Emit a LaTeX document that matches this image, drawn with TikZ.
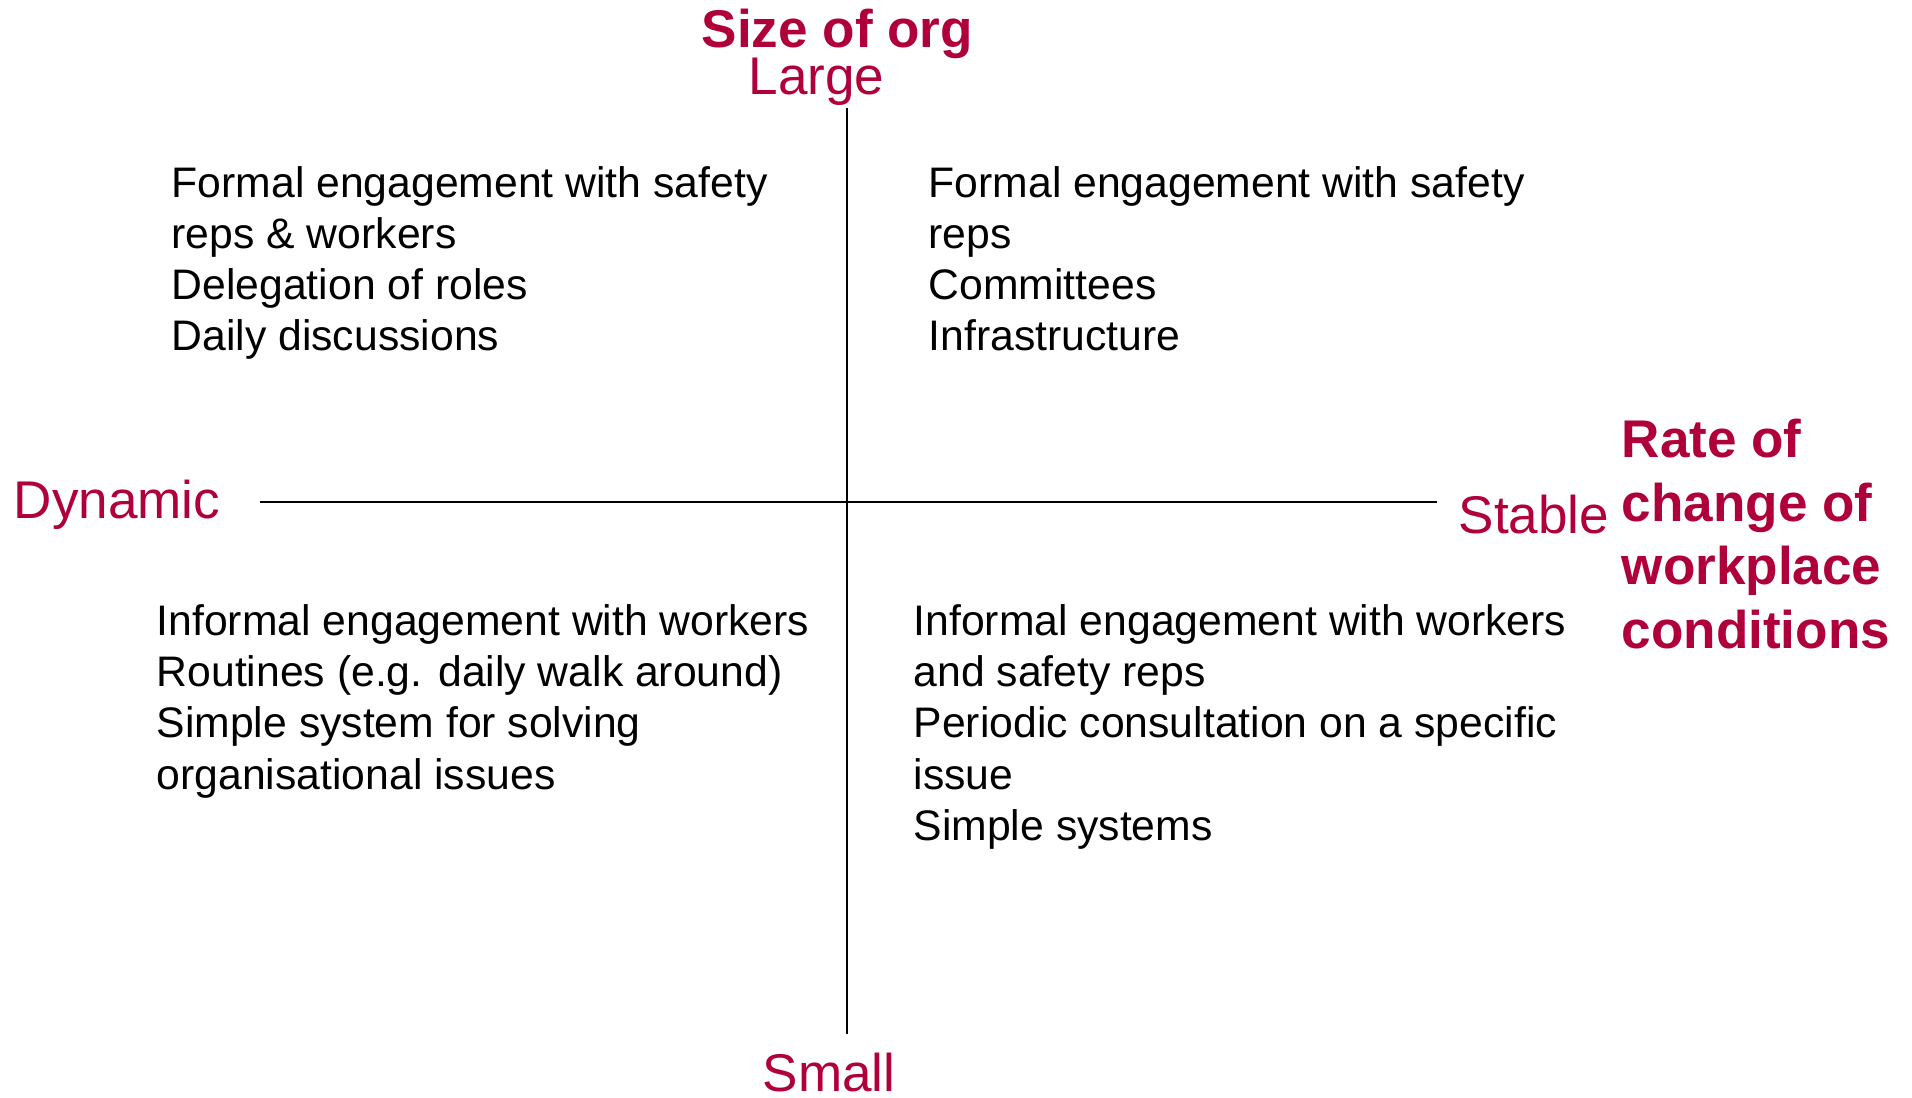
\documentclass[tikz,border=0pt]{standalone}
\usepackage{fontspec}
\setmainfont{Liberation Sans}
\definecolor{orgred}{RGB}{176,0,58}
\tikzstyle{axislabel}=[text=orgred,font=\fontsize{15.1}{18}\selectfont,inner sep=0pt,anchor=base west]
\tikzstyle{axistitle}=[axislabel,font=\fontsize{15.1}{18}\selectfont\bfseries]
\tikzstyle{item}=[font=\fontsize{12.15}{14.5}\selectfont,inner sep=0pt,anchor=base west]
\tikzstyle{axis}=[draw,line width=0.6pt]
\begin{document}
\begin{tikzpicture}
  \useasboundingbox (0,0) rectangle (19.12,-10.98);

  % axis ends
  \coordinate (top) at (8.467,-1.08);
  \coordinate (bottom) at (8.467,-10.34);
  \coordinate (left) at (2.60,-5.02);
  \coordinate (right) at (14.37,-5.02);
  \path[axis] (top) -- (bottom);
  \path[axis] (left) -- (right);

  % axis labels
  \node[axistitle] (size) at (7.01,-0.48) {Size of org};
  \node[axislabel] (large) at (7.48,-0.95) {Large};
  \node[axislabel] (small) at (7.62,-10.91) {Small};
  \node[axislabel] (dynamic) at (0.13,-5.19) {Dynamic};
  \node[axislabel] (stable) at (14.58,-5.34) {Stable};
  \foreach \txt [count=\i] in {Rate of, change of, workplace, conditions}
    \node[axistitle] (rate\i) at (16.21,{-4.58-0.635*(\i-1)}) {\txt};

  % quadrant items
  \foreach \txt [count=\i] in {Formal engagement with safety, reps \& workers, Delegation of roles, Daily discussions}
    \node[item] (tl\i) at (1.71,{-1.98-0.51*(\i-1)}) {\txt};
  \foreach \txt [count=\i] in {Formal engagement with safety, reps, Committees, Infrastructure}
    \node[item] (tr\i) at (9.28,{-1.98-0.51*(\i-1)}) {\txt};
  \foreach \txt [count=\i] in {Informal engagement with workers, Routines (e.g. daily walk around), Simple system for solving, organisational issues}
    \node[item] (bl\i) at (1.56,{-6.36-0.51*(\i-1)}) {\txt};
  \foreach \txt [count=\i] in {Informal engagement with workers, and safety reps, Periodic consultation on a specific, issue, Simple systems}
    \node[item] (br\i) at (9.13,{-6.36-0.51*(\i-1)}) {\txt};

\end{tikzpicture}
\end{document}
